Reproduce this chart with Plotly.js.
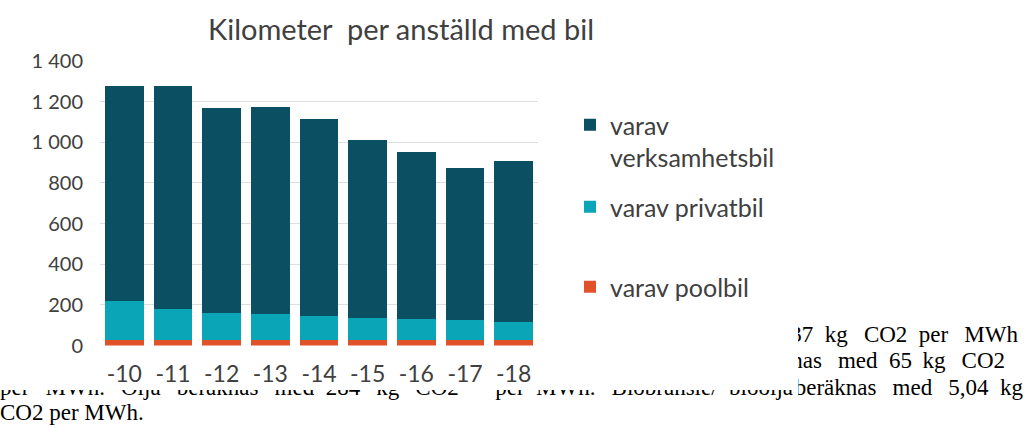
<!DOCTYPE html>
<html><head><meta charset="utf-8">
<script src="https://cdn.plot.ly/plotly-3.0.1.min.js"></script>
<style>html,body{margin:0;padding:0;background:#fff}#chart{width:1027px;height:434px}</style>
</head><body><div id="chart"></div>
<script>
// ---- data ----
const years = ['-10','-11','-12','-13','-14','-15','-16','-17','-18'];
const poolbil = [26,26,26,29,29,29,29,29,29];
const privatbil = [191,154,135,126,118,108,100,95,88];
const verksamhetsbil = [1060,1097,1006,1019,968,873,822,751,791];
const seriesNames = ['varav poolbil','varav privatbil','varav<br>verksamhetsbil'];
const seriesColors = ['#e2522a','#0aa5b7','#0a4f62'];
const yTicks = [0,200,400,600,800,1000,1200,1400];
const chartTitle = 'Kilometer\u00a0 per anställd med bil';
// surrounding document text (partly hidden behind the chart)
const noteLine1 = '37\u00a0 kg\u00a0\u2009 CO2\u00a0 per\u00a0\u2009 MWh';
const noteLine2 = 'beräknas\u00a0\u2009 med\u00a0 65\u2009 kg\u00a0\u2009 CO2';
const noteLine3a = 'per\u00a0\u2009 MWh.\u00a0\u2009 Olja\u00a0\u2009 beräknas\u00a0\u2009 med\u00a0 284\u00a0\u2009 kg\u00a0\u2009 CO2';
const noteLine3b = 'per\u00a0 MWh.\u00a0\u2009 Biobränsle/\u00a0 bioolja';
const noteLine3c = 'beräknas\u00a0\u2009 med\u00a0\u2009 5,04\u00a0 kg';
const noteLine4 = 'CO2 per MWh.';

const W = 1027, H = 434;
const px = x => x / W, py = y => 1 - y / H;
const grey = '#404040';
const sans = 'Lato, "Open Sans", sans-serif';
const serif = '"Liberation Serif", "Times New Roman", serif';

const traces = [
  {type:'bar', x:years, y:poolbil, name:seriesNames[0], marker:{color:seriesColors[0]}, legend:'legend3'},
  {type:'bar', x:years, y:privatbil, name:seriesNames[1], marker:{color:seriesColors[1]}, legend:'legend2'},
  {type:'bar', x:years, y:verksamhetsbil, name:seriesNames[2], marker:{color:seriesColors[2]}, legend:'legend'}
];

const noteFont = {family: serif, size: 23, color: '#000'};
function noteTrace(xa, ya, x, y, text, pos){
  return {type:'scatter', mode:'text', xaxis:xa, yaxis:ya, x:[x], y:[y], text:[text],
          textposition:pos, textfont:noteFont, cliponaxis:true, showlegend:false, hoverinfo:'skip'};
}
// left-bottom strip (only lower part of line 3 visible)
traces.push(noteTrace('x2','y2', 0, 389, noteLine3a, 'middle right'));
traces.push(noteTrace('x2','y2', 793, 389, noteLine3b, 'middle left'));
traces.push(noteTrace('x2','y2', 0, 414, noteLine4, 'middle right'));
// right strip
traces.push(noteTrace('x3','y3', 1018, 336, noteLine1, 'middle left'));
traces.push(noteTrace('x3','y3', 1005, 362, noteLine2, 'middle left'));
traces.push(noteTrace('x3','y3', 1023, 389, noteLine3c, 'middle left'));

const legendBase = {xanchor:'left', yanchor:'top', valign:'top', bgcolor:'rgba(0,0,0,0)',
  font:{family:sans, size:25, color:grey}, itemclick:false, itemdoubleclick:false};

const layout = {
  width: W, height: H,
  margin: {l:0, r:0, t:0, b:0, pad:0},
  paper_bgcolor:'#fff', plot_bgcolor:'rgba(0,0,0,0)',
  separators: ', ',
  barmode:'stack', bargap:0.21,
  hovermode:false,
  title:{text: chartTitle, xref:'container', yref:'container', x:px(401), y:py(30),
         xanchor:'center', yanchor:'middle', font:{family:sans, size:29, color:grey}},
  xaxis:{type:'category', domain:[px(100), px(538)], range:[-0.5, 8.5], showgrid:false, zeroline:false,
         showline:false, ticks:'', ticklabelstandoff:12, tickfont:{family:sans, size:23, color:grey}, fixedrange:true},
  yaxis:{domain:[py(345.5), py(61)], range:[0,1400], tickmode:'array', tickvals:yTicks, tickformat:',d',
         showgrid:true, gridcolor:'#dedede', gridwidth:1, zeroline:false, showline:false, ticks:'',
         ticklabelstandoff:16, tickfont:{family:sans, size:20, color:grey}, fixedrange:true},
  xaxis2:{domain:[0, px(798)], range:[0,798], visible:false, anchor:'y2', fixedrange:true},
  yaxis2:{domain:[0, py(390)], range:[434,390], visible:false, anchor:'x2', fixedrange:true},
  xaxis3:{domain:[px(798), 1], range:[798,1027], visible:false, anchor:'y3', fixedrange:true},
  yaxis3:{domain:[0, py(300)], range:[434,300], visible:false, anchor:'x3', fixedrange:true},
  legend: Object.assign({x:px(570), y:py(102)}, legendBase),
  legend2: Object.assign({x:px(570), y:py(184)}, legendBase),
  legend3: Object.assign({x:px(570), y:py(264)}, legendBase)
};

Plotly.newPlot('chart', traces, layout, {displayModeBar:false, staticPlot:true});
</script>
</body></html>
